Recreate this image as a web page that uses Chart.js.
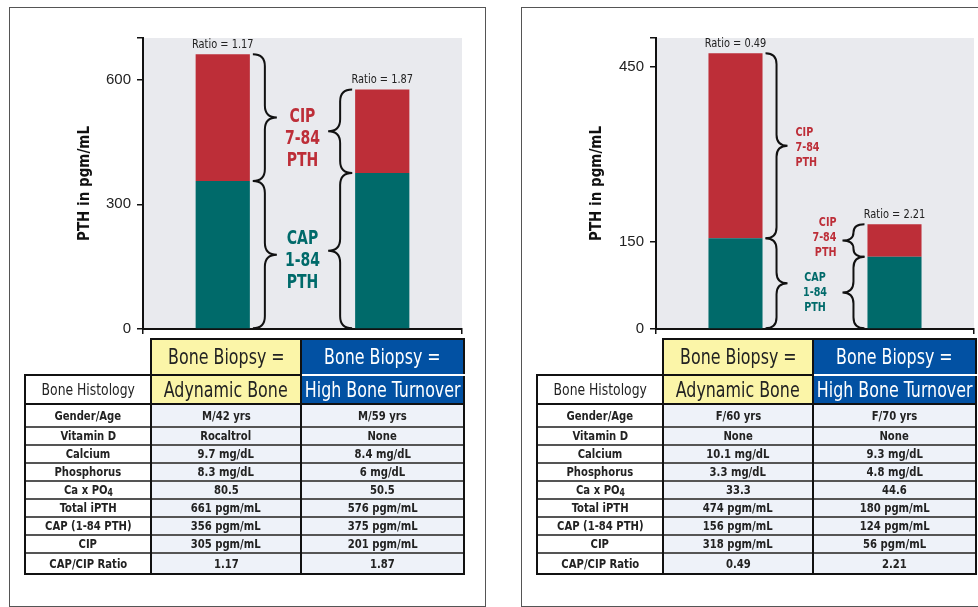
<!DOCTYPE html>
<html lang="en">
<head>
<meta charset="UTF-8" />
<title>CAP / CIP PTH and Bone Histology</title>
<script src="https://cdn.jsdelivr.net/npm/chart.js"></script>
<style>
  body { margin:0; width:978px; height:607px; background:#fff; position:relative; overflow:hidden;
         font-family:"DejaVu Sans Condensed","Liberation Sans Narrow","Arial Narrow",sans-serif; color:#222; }
  .panel { position:absolute; top:7px; height:598px; border:1px solid #555; }
  #panelL { left:9px; width:475px; }
  #panelR { left:521px; width:470px; }
  canvas { position:absolute; top:20px; }
  #chartL { left:30px; }
  #chartR { left:540px; }
  table.tbl { position:absolute; top:338px; border-collapse:collapse; table-layout:fixed; width:439px; }
  #tblL { left:24px; }
  #tblR { left:536px; }
  .tbl td { padding:0; text-align:center; white-space:nowrap; overflow:hidden; line-height:14px; }
  .tbl td span { display:inline-block; transform:scaleX(0.84); margin:0 -60px; }
  .tbl td.blank { border:none; background:#fff; }
  .tbl tr.h1 td { height:34px; font-size:21px; line-height:24px; }
  .tbl tr.h2 td { height:27px; font-size:21px; line-height:24px; }
  .tbl td.yel { background:#fbf5a8; color:#222; border:2px solid #111; }
  .tbl td.blu { background:#0251a3; color:#fff; border:2px solid #111; }
  .tbl tr.h1 td.blu { border-bottom:2px solid #fff; }
  .tbl td.hist { font-size:16px !important; border:2px solid #111; background:#fff; }
  .tbl td.hist span { transform:scaleX(0.86); }
  .tbl tr.row td { height:16px; font-size:13px; font-weight:bold; border-top:2px solid #555; border-left:2px solid #111; border-right:2px solid #111; background:#eef2f9; }
  .tbl tr.row td span { transform:scaleX(0.86); }
  .tbl tr.row td:first-child { background:#fff; }
  .tbl tr.row.first td { height:21px; border-top:2px solid #111; }
  .tbl tr.row.last td { height:19px; border-bottom:2px solid #111; }
  sub { font-size:10px; vertical-align:-2px; line-height:0; }
</style>
</head>
<body>

<div class="panel" id="panelL"></div>
<div class="panel" id="panelR"></div>

<canvas id="chartL" width="445" height="324"></canvas>
<canvas id="chartR" width="438" height="324"></canvas>

<table class="tbl" id="tblL"></table>
<table class="tbl" id="tblR"></table>

<script>
  // ---- data ----
  const categories = ['Adynamic Bone', 'High Bone Turnover'];

  // left patient pair
  const capLeft = [356, 375];
  const cipLeft = [305, 201];
  const ratioLeft = ['1.17', '1.87'];
  const ticksLeft = [0, 300, 600];
  const maxLeft = 700;

  // right patient pair
  const capRight = [156, 124];
  const cipRight = [318, 56];
  const ratioRight = ['0.49', '2.21'];
  const ticksRight = [0, 150, 450];
  const maxRight = 500;

  const cipText = ['CIP', '7-84', 'PTH'];
  const capText = ['CAP', '1-84', 'PTH'];

  // table
  const rowLabels = ['Gender/Age', 'Vitamin D', 'Calcium', 'Phosphorus', 'Ca x PO<sub>4</sub>',
                     'Total iPTH', 'CAP (1-84 PTH)', 'CIP', 'CAP/CIP Ratio'];
  const leftAdynamic = ['M/42 yrs', 'Rocaltrol', '9.7 mg/dL', '8.3 mg/dL', '80.5',
                        '661 pgm/mL', '356 pgm/mL', '305 pgm/mL', '1.17'];
  const leftHigh = ['M/59 yrs', 'None', '8.4 mg/dL', '6 mg/dL', '50.5',
                    '576 pgm/mL', '375 pgm/mL', '201 pgm/mL', '1.87'];
  const rightAdynamic = ['F/60 yrs', 'None', '10.1 mg/dL', '3.3 mg/dL', '33.3',
                         '474 pgm/mL', '156 pgm/mL', '318 pgm/mL', '0.49'];
  const rightHigh = ['F/70 yrs', 'None', '9.3 mg/dL', '4.8 mg/dL', '44.6',
                     '180 pgm/mL', '124 pgm/mL', '56 pgm/mL', '2.21'];

  const RED = '#bd2e38';
  const TEAL = '#006a6a';
  const FONT = '"DejaVu Sans Condensed","Liberation Sans Narrow",sans-serif';

  function buildTable(id, colA, colB) {
    let html = '<colgroup><col style="width:126px"><col style="width:150px"><col style="width:163px"></colgroup>';
    html += '<tr class="h1"><td class="blank"></td><td class="yel"><span>Bone Biopsy =</span></td><td class="blu"><span>Bone Biopsy =</span></td></tr>';
    html += '<tr class="h2"><td class="hist"><span>Bone Histology</span></td><td class="yel"><span>' + categories[0] +
            '</span></td><td class="blu"><span>' + categories[1] + '</span></td></tr>';
    rowLabels.forEach((lab, i) => {
      let cls = 'row';
      if (i === 0) cls += ' first';
      if (i === rowLabels.length - 1) cls += ' last';
      html += `<tr class="${cls}"><td><span>${lab}</span></td><td><span>${colA[i]}</span></td><td><span>${colB[i]}</span></td></tr>`;
    });
    document.getElementById(id).innerHTML = html;
  }
  buildTable('tblL', leftAdynamic, leftHigh);
  buildTable('tblR', rightAdynamic, rightHigh);

  // ---- plugins ----
  const plotBg = {
    id: 'plotBg',
    beforeDraw(chart) {
      const { ctx, chartArea: a } = chart;
      ctx.save();
      ctx.fillStyle = '#e9eaee';
      ctx.fillRect(a.left, a.top, a.right - a.left, a.bottom - a.top);
      ctx.restore();
    }
  };

  function drawBrace(ctx, x, y0, y1, dir, w) {
    const xm = x + dir * w / 2, xt = x + dir * w, ym = (y0 + y1) / 2;
    const r = Math.min(w / 2, (y1 - y0) / 4);
    ctx.beginPath();
    ctx.moveTo(x, y0);
    ctx.quadraticCurveTo(xm, y0, xm, y0 + r);
    ctx.lineTo(xm, ym - r);
    ctx.quadraticCurveTo(xm, ym, xt, ym);
    ctx.quadraticCurveTo(xm, ym, xm, ym + r);
    ctx.lineTo(xm, y1 - r);
    ctx.quadraticCurveTo(xm, y1, x, y1);
    ctx.stroke();
  }

  // narrow text: the original uses a condensed face
  function narrowText(ctx, text, x, y, sx) {
    ctx.save();
    ctx.translate(x, y);
    ctx.scale(sx, 1);
    ctx.fillText(text, 0, 0);
    ctx.restore();
  }

  // braces beside the bars, labels, and the ratio on top
  const annotate = {
    id: 'annotate',
    afterDatasetsDraw(chart, args, opts) {
      const ctx = chart.ctx;
      const tips = [[], []];
      ctx.save();
      ctx.strokeStyle = '#111';
      ctx.lineWidth = 2;
      [0, 1].forEach(ds => {
        chart.getDatasetMeta(ds).data.forEach((bar, j) => {
          const dir = j === 0 ? 1 : -1;
          const x = bar.x + dir * (bar.width / 2 + 3);
          drawBrace(ctx, x, bar.y, bar.base, dir, opts.braceW);
          tips[ds][j] = { x: x + dir * opts.braceW, y: (bar.y + bar.base) / 2 };
        });
      });

      opts.items.forEach(it => {
        let x, y, align;
        if (it.bar === 'both') {
          x = (tips[it.ds][0].x + tips[it.ds][1].x) / 2;
          y = (tips[it.ds][0].y + tips[it.ds][1].y) / 2;
          align = 'center';
        } else {
          x = tips[it.ds][it.bar].x + it.dx;
          y = tips[it.ds][it.bar].y;
          align = it.align;
        }
        y += it.dy;
        ctx.fillStyle = it.ds === 0 ? TEAL : RED;
        ctx.font = 'bold ' + opts.size + 'px ' + FONT;
        ctx.textAlign = align;
        ctx.textBaseline = 'middle';
        const lines = it.ds === 0 ? capText : cipText;
        lines.forEach((t, k) => {
          narrowText(ctx, t, x, y + (k - 1) * opts.lineH, 0.82);
        });
      });

      ctx.fillStyle = '#222';
      ctx.font = '13px ' + FONT;
      ctx.textAlign = 'center';
      ctx.textBaseline = 'bottom';
      chart.getDatasetMeta(1).data.forEach((bar, j) => {
        narrowText(ctx, 'Ratio = ' + opts.ratio[j], bar.x, bar.y - 3, 0.84);
      });
      ctx.restore();
    }
  };

  function makeChart(id, cap, cip, ticks, max, ratio, geo, items) {
    return new Chart(document.getElementById(id), {
      type: 'bar',
      data: {
        labels: categories,
        datasets: [
          { label: 'CAP (1-84 PTH)', data: cap, backgroundColor: TEAL },
          { label: 'CIP (7-84 PTH)', data: cip, backgroundColor: RED }
        ]
      },
      options: {
        responsive: false,
        animation: false,
        layout: { padding: { top: 18, right: geo.right, bottom: 0, left: 0 } },
        datasets: { bar: { categoryPercentage: 1, barPercentage: 0.34 } },
        plugins: {
          legend: { display: false },
          tooltip: { enabled: false },
          annotate: { ratio: ratio, braceW: geo.braceW, size: geo.size, lineH: geo.lineH, items: items }
        },
        scales: {
          x: {
            stacked: true,
            ticks: { display: false },
            grid: {
              drawOnChartArea: false, tickLength: 5, lineWidth: 1.5,
              color: c => c.index === 1 ? 'rgba(0,0,0,0)' : '#111'
            },
            border: { color: '#111', width: 2 },
            afterFit: s => { s.height = 12; }
          },
          y: {
            stacked: true,
            min: 0,
            max: max,
            afterBuildTicks: s => { s.ticks = ticks.concat([max]).map(v => ({ value: v })); },
            ticks: {
              padding: 6,
              color: '#222',
              font: { family: '"Liberation Sans", sans-serif', size: 15 },
              callback: v => ticks.includes(v) ? v : ''
            },
            grid: { drawOnChartArea: false, tickLength: 6, color: '#111', lineWidth: 1.5 },
            border: { color: '#111', width: 2 },
            title: {
              display: true,
              text: 'PTH in pgm/mL',
              color: '#111',
              font: { family: FONT, size: 15, weight: 'bold' },
              padding: { top: geo.titlePad, bottom: 0 }
            },
            afterFit: s => { s.width = geo.yWidth; }
          }
        }
      },
      plugins: [plotBg, annotate]
    });
  }

  makeChart('chartL', capLeft, cipLeft, ticksLeft, maxLeft, ratioLeft,
    { right: 13, yWidth: 113, titlePad: 46, braceW: 24, size: 19, lineH: 22 },
    [
      { ds: 1, bar: 'both', dy: 15 },
      { ds: 0, bar: 'both', dy: 8 }
    ]);

  makeChart('chartR', capRight, cipRight, ticksRight, maxRight, ratioRight,
    { right: 4, yWidth: 116, titlePad: 48, braceW: 22, size: 13, lineH: 15 },
    [
      { ds: 1, bar: 0, dx: 8, align: 'left', dy: 2 },
      { ds: 1, bar: 1, dx: -6, align: 'right', dy: -3 },
      { ds: 0, bar: 'both', dy: 5 }
    ]);
</script>

</body>
</html>
